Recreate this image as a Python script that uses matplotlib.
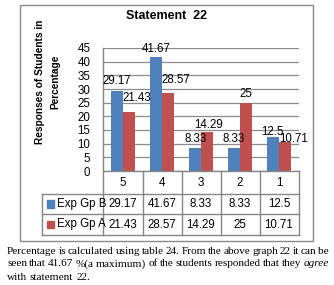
import matplotlib
matplotlib.use("Agg")
import matplotlib.pyplot as plt
from matplotlib.patches import Rectangle
from matplotlib.lines import Line2D

categories = ["5", "4", "3", "2", "1"]
series_names = ["Exp Gp B", "Exp Gp A"]
gp_b = [29.17, 41.67, 8.33, 8.33, 12.5]
gp_a = [21.43, 28.57, 14.29, 25, 10.71]
gp_b_labels = ["29.17", "41.67", "8.33", "8.33", "12.5"]
gp_a_labels = ["21.43", "28.57", "14.29", "25", "10.71"]
yticks = [0, 5, 10, 15, 20, 25, 30, 35, 40, 45]
title = "Statement  22"
ylabel_lines = ["Responses of Students in", "Percentage"]
caption_lines = [
    "Percentage is calculated using table 24. From the above graph 22 it can be",
    "seen that 41.67 %(a maximum) of the students responded that they |agree|",
    "with statement 22.",
]

# label offsets (px) to mimic the Excel label placement
b_off = [(0, 10), (0, 8), (1, 9), (0, 9), (-1, 5)]
a_off = [(8, 14), (8, 13), (1.5, 6.5), (0, 9), (9, 3)]

W, H = 334, 285
DPI = 100
fig = plt.figure(figsize=(W / DPI, H / DPI), dpi=DPI)
plt.rcParams['font.family'] = ['Liberation Sans', 'DejaVu Sans']

def fx(x):
    return x / W

def fy(y):
    return 1 - y / H

BLUE = "#4F81BD"
RED = "#C0504D"
GRID = "#8C8C8C"
LINE = "#868686"

# chart frame
fig.add_artist(Rectangle((fx(20), fy(241)), fx(313) - fx(20), fy(5) - fy(241),
                         transform=fig.transFigure, fill=False, edgecolor="#8A8A8A", lw=1.0))

# plot area
x0, x1, ytop, ybot = 103.5, 298.5, 48, 171
ax = fig.add_axes([fx(x0), fy(ybot), fx(x1) - fx(x0), fy(ytop) - fy(ybot)])
n = len(categories)
xs = list(range(n))
bw = 0.31
ax.bar([x - bw / 2 for x in xs], gp_b, width=bw, color=BLUE, zorder=3)
ax.bar([x + bw / 2 for x in xs], gp_a, width=bw, color=RED, zorder=3)
ax.set_xlim(-0.5, n - 0.5)
ax.set_ylim(0, 45)
ax.set_yticks(yticks)
ax.set_yticklabels([str(t) for t in yticks], fontsize=8.3)
ax.tick_params(axis='y', length=0, pad=9.5)
ax.set_xticks([])
ax.yaxis.grid(True, color=GRID, lw=0.9, zorder=0)
for s in ["top", "right", "bottom"]:
    ax.spines[s].set_visible(False)
ax.spines["left"].set_color(LINE)
ax.spines["left"].set_linewidth(1.0)

for i in xs:
    ax.annotate(gp_b_labels[i], (i - bw / 2, gp_b[i]), xytext=b_off[i], textcoords="offset pixels",
                ha="center", va="center", fontsize=8.3, zorder=5)
    ax.annotate(gp_a_labels[i], (i + bw / 2, gp_a[i]), xytext=a_off[i], textcoords="offset pixels",
                ha="center", va="center", fontsize=8.3, zorder=5)

# title and y label
fig.text(fx(167), fy(16), title, ha="center", va="center", fontsize=9, fontweight="bold")
fig.text(fx(40), fy(82), ylabel_lines[0], rotation=90, ha="center", va="center", fontsize=7.3, fontweight="bold")
fig.text(fx(55), fy(82), ylabel_lines[1], rotation=90, ha="center", va="center", fontsize=7.3, fontweight="bold")

# data table
cols = [103.5, 142.5, 181.5, 220.5, 259.5, 298.5]
rows = [171, 194, 214, 235]
tl = 42
def hline(xa, xb, y):
    fig.add_artist(Line2D([fx(xa), fx(xb)], [fy(y), fy(y)], transform=fig.transFigure, color=LINE, lw=1.0))
def vline(x, ya, yb):
    fig.add_artist(Line2D([fx(x), fx(x)], [fy(ya), fy(yb)], transform=fig.transFigure, color=LINE, lw=1.0))

hline(cols[0], cols[-1], rows[0])
for r in rows[1:]:
    hline(tl, cols[-1], r)
for c in cols:
    vline(c, rows[0], rows[-1])
vline(tl, rows[1], rows[-1])

for i, c in enumerate(categories):
    cx = (cols[i] + cols[i + 1]) / 2
    fig.text(fx(cx), fy((rows[0] + rows[1]) / 2), c, ha="center", va="center", fontsize=8.3)
    fig.text(fx(cx), fy((rows[1] + rows[2]) / 2), gp_b_labels[i], ha="center", va="center", fontsize=8.3)
    fig.text(fx(cx), fy((rows[2] + rows[3]) / 2), gp_a_labels[i], ha="center", va="center", fontsize=8.3)

for k, (name, col) in enumerate(zip(series_names, [BLUE, RED])):
    cy = (rows[k + 1] + rows[k + 2]) / 2
    fig.add_artist(Rectangle((fx(47), fy(cy + 3.5)), fx(54) - fx(47), fy(cy - 3.5) - fy(cy + 3.5),
                             transform=fig.transFigure, color=col))
    fig.text(fx(57), fy(cy), name, ha="left", va="center", fontsize=8.3)

# caption, justified
fig.canvas.draw()
renderer = fig.canvas.get_renderer()
cap_fs = 8.1
cap_y = [251, 264, 277]
left, right = 7, 329
probe1 = fig.text(0, 0, "a b", fontsize=cap_fs, family="Liberation Serif")
probe2 = fig.text(0, 0, "ab", fontsize=cap_fs, family="Liberation Serif")
sw = probe1.get_window_extent(renderer).width - probe2.get_window_extent(renderer).width
probe1.remove()
probe2.remove()
for li, line in enumerate(caption_lines):
    words = line.split(" ")
    arts = []
    for w in words:
        italic = w.startswith("|")
        txt = w.strip("|")
        t = fig.text(fx(left), fy(cap_y[li]), txt, ha="left", va="center", fontsize=cap_fs,
                     family="Liberation Serif", style="italic" if italic else "normal")
        arts.append(t)
    widths = [a.get_window_extent(renderer).width for a in arts]
    if li < len(caption_lines) - 1 and len(words) > 1:
        gap = max((right - left - sum(widths)) / (len(words) - 1), 1.0)
    else:
        gap = sw
    x = left
    for a, w in zip(arts, widths):
        a.set_x(fx(x))
        x += w + gap

fig.savefig("out.png", dpi=DPI)
